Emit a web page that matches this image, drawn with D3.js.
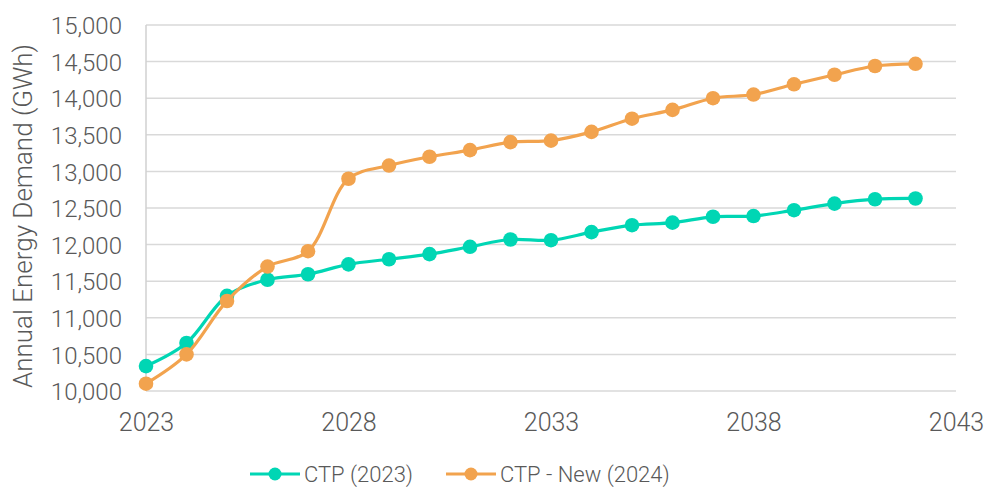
<!DOCTYPE html>
<html><head><meta charset="utf-8">
<script src="https://cdn.jsdelivr.net/npm/d3@7"></script>
<style>body{margin:0;background:#fff}svg text{font-family:Roboto,"Liberation Sans",sans-serif;font-weight:300;fill:#595959}</style>
</head><body><svg id="c" width="984" height="487"></svg>
<script>
const years = d3.range(2023, 2043);
const ctp2023 = [10340,10656,11300,11520,11595,11730,11800,11870,11970,12070,12060,12170,12265,12300,12380,12390,12470,12560,12620,12630];
const ctpNew2024 = [10100,10500,11230,11700,11910,12900,13080,13200,13290,13400,13420,13540,13720,13840,14000,14050,14190,14320,14440,14470];
const yTicks = [10000,10500,11000,11500,12000,12500,13000,13500,14000,14500,15000];
const xTicks = [2023,2028,2033,2038,2043];
const seriesNames = ["CTP (2023)","CTP - New (2024)"];
const colors = ["#00D6B4","#F2A34E"];

const svg = d3.select("#c");
const L=146,R=956,T=25,B=391;
const x = d3.scaleLinear().domain([2023,2043]).range([L,R]);
const y = d3.scaleLinear().domain([10000,15000]).range([B,T]);

// gridlines
svg.append("g").selectAll("line").data(yTicks).join("line")
  .attr("x1",L).attr("x2",R).attr("y1",d=>y(d)).attr("y2",d=>y(d))
  .attr("stroke","#d9d9d9").attr("stroke-width",1.5);
svg.append("line").attr("x1",L).attr("x2",L).attr("y1",T).attr("y2",B)
  .attr("stroke","#d0d0d0").attr("stroke-width",1.5);

// y axis
const ya = svg.append("g").attr("transform",`translate(${L},0)`)
  .call(d3.axisLeft(y).tickValues(yTicks).tickFormat(d3.format(",")).tickSize(0).tickPadding(24));
ya.select(".domain").remove();
ya.selectAll("text").attr("font-size",24).attr("dy","0.36em");

// x axis
const xa = svg.append("g").attr("transform",`translate(0,${B})`)
  .call(d3.axisBottom(x).tickValues(xTicks).tickFormat(d3.format("d")).tickSize(0).tickPadding(22));
xa.select(".domain").remove();
xa.selectAll("text").attr("font-size",25).attr("dy","0.71em");

// y title
svg.append("text").attr("transform",`translate(32,${216}) rotate(-90)`)
  .attr("text-anchor","middle").attr("font-size",26).text("Annual Energy Demand (GWh)");

const line = d3.line().x((d,i)=>x(years[i])).y(d=>y(d)).curve(d3.curveCatmullRom.alpha(0.5));
[ctp2023, ctpNew2024].forEach((s,k)=>{
  const g = svg.append("g");
  g.append("path").attr("d",line(s)).attr("fill","none").attr("stroke",colors[k]).attr("stroke-width",3.2);
  g.selectAll("circle").data(s).join("circle")
    .attr("cx",(d,i)=>x(years[i])).attr("cy",d=>y(d)).attr("r",7.3).attr("fill",colors[k]);
});

// legend
const legX = [250,446];
seriesNames.forEach((n,k)=>{
  const g = svg.append("g").attr("transform",`translate(${legX[k]},474)`);
  g.append("line").attr("x1",0).attr("x2",50).attr("stroke",colors[k]).attr("stroke-width",3.2);
  g.append("circle").attr("cx",25).attr("r",6.5).attr("fill",colors[k]);
  g.append("text").attr("x",54).attr("dy","0.36em").attr("font-size",22).text(n);
});
</script></body></html>
